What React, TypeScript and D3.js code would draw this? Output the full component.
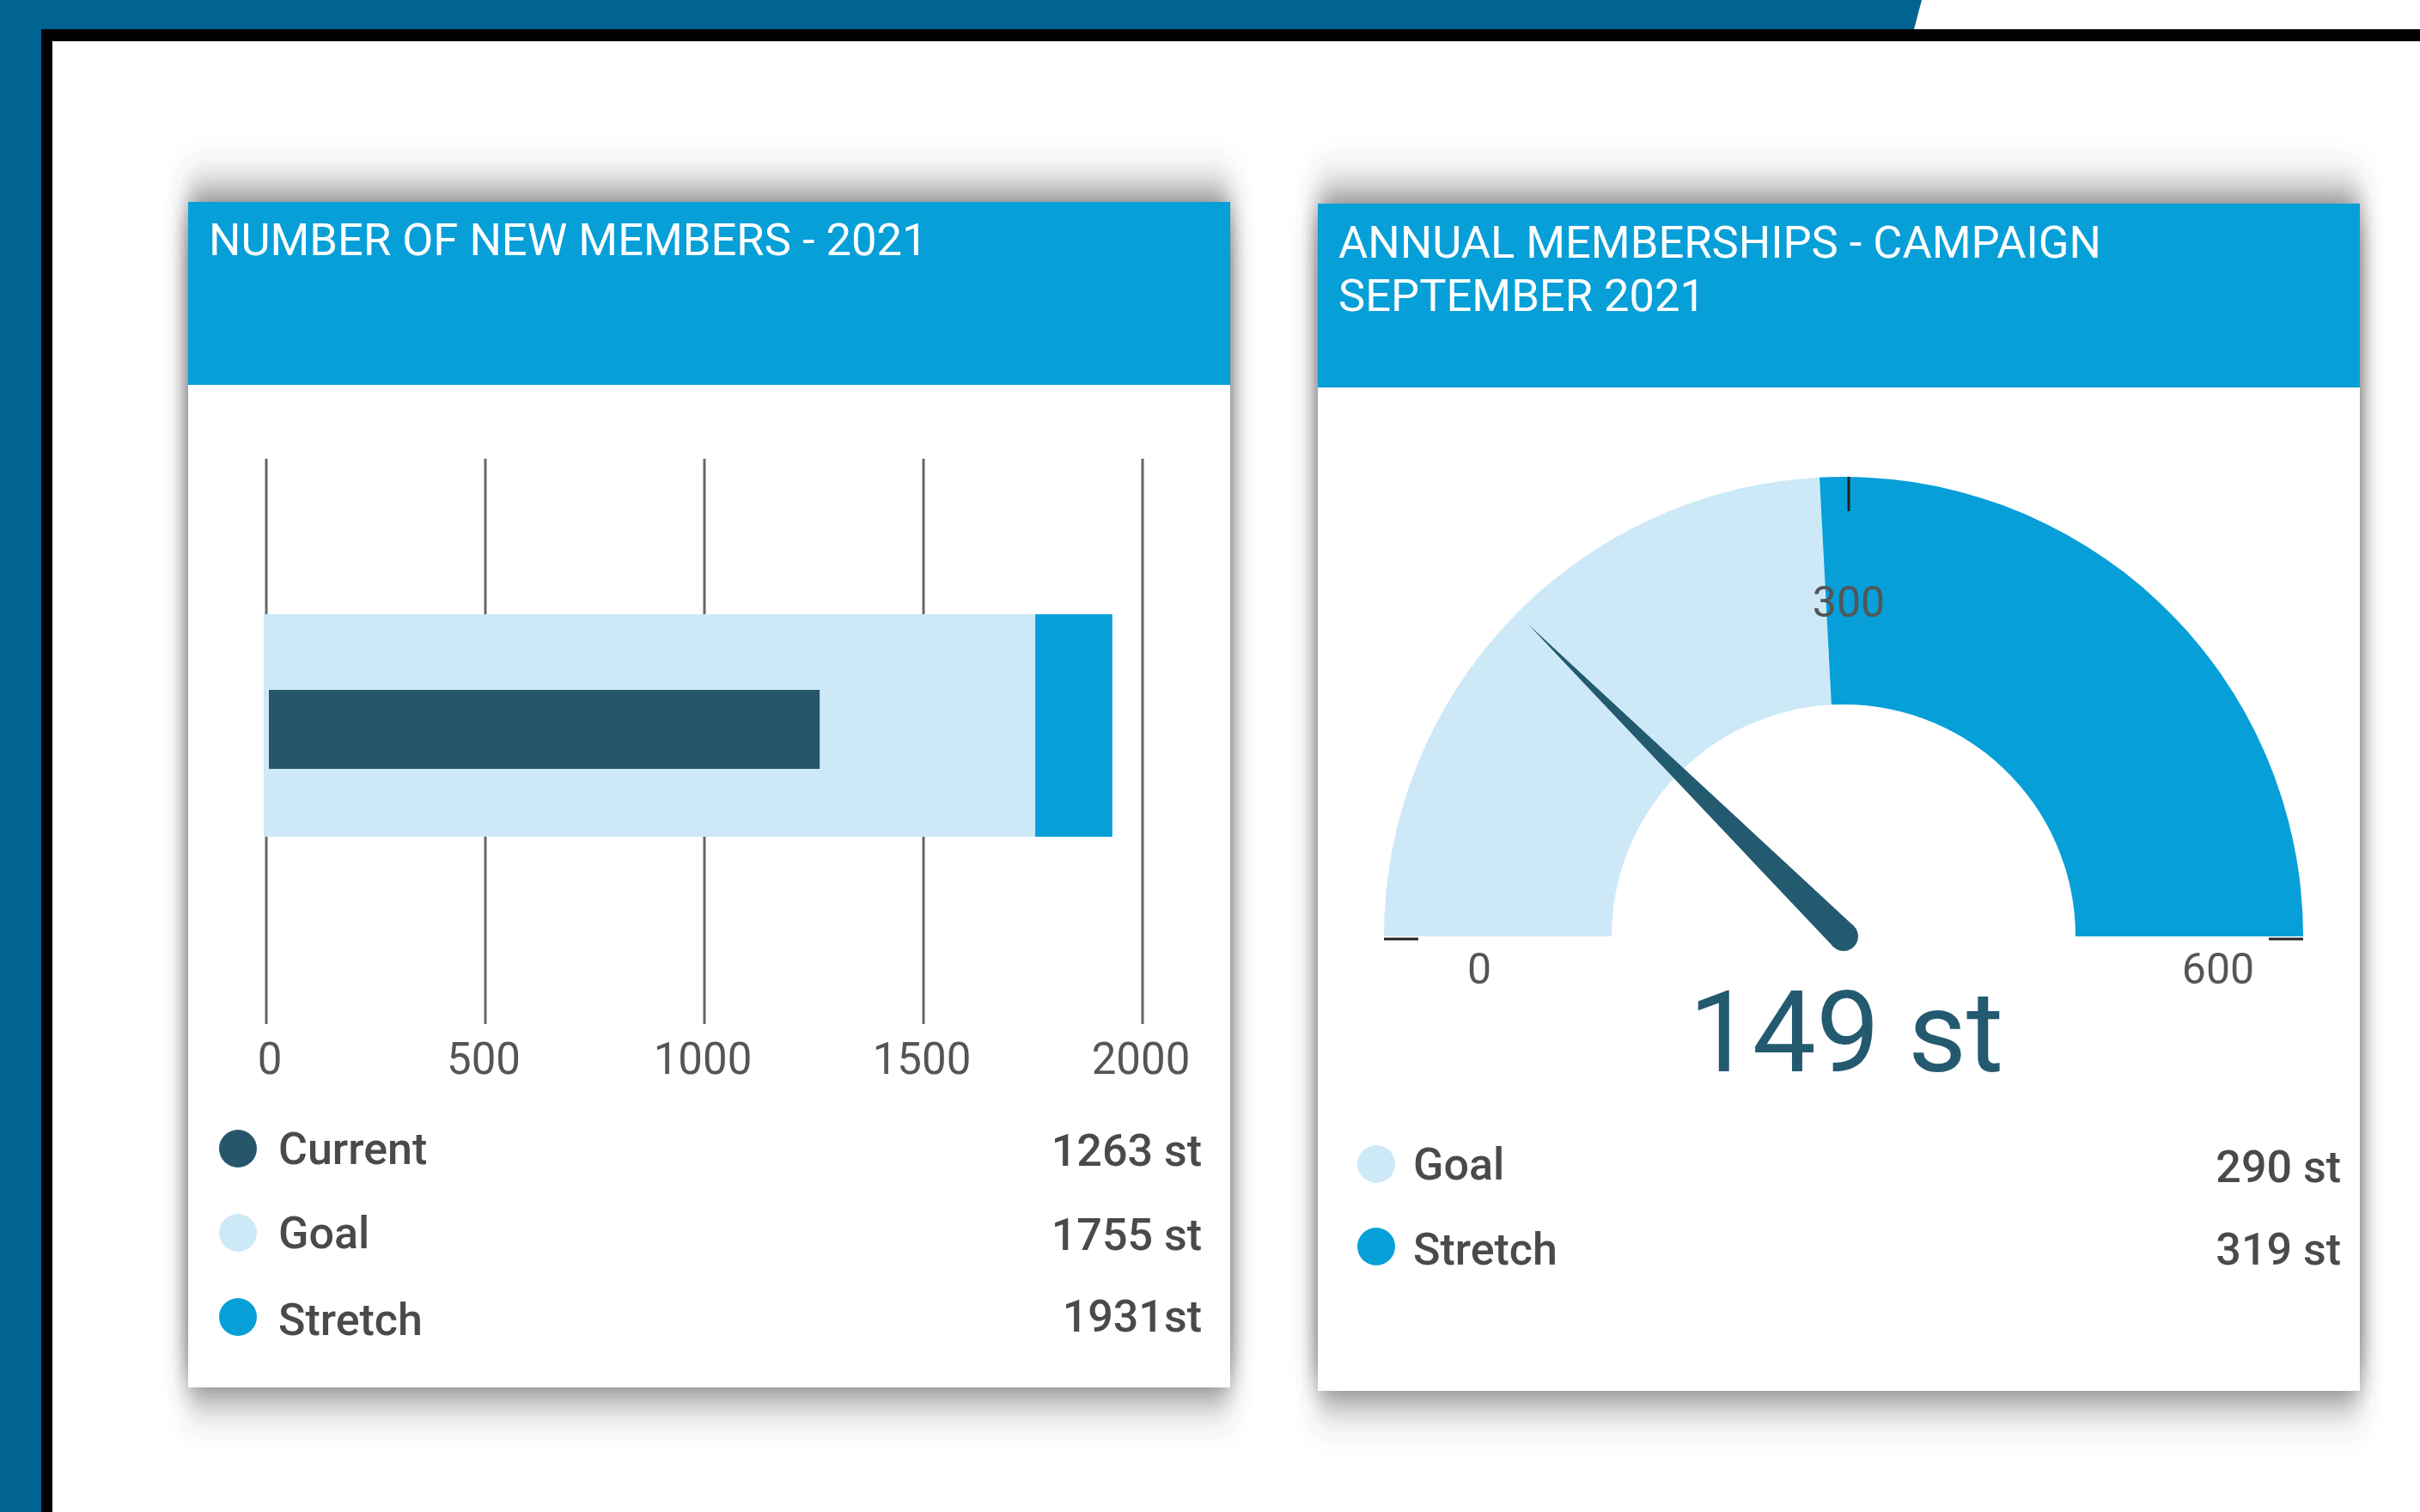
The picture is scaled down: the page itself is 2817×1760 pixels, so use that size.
import React from "react";
import * as d3 from "d3";

// ---------- data ----------
const bulletCategories = ["Current", "Goal", "Stretch"];
const bulletValues = [1263, 1755, 1931];
const bulletValueLabels = ["1263 st", "1755 st", "1931st"];
const bulletTicks = [0, 500, 1000, 1500, 2000];

const gaugeMin = 0;
const gaugeMax = 600;
const gaugeValue = 149;
const gaugeTicks = [0, 300, 600];
const gaugeCategories = ["Goal", "Stretch"];
const gaugeLegendValues = [290, 319];
const gaugeLegendLabels = ["290 st", "319 st"];

const title1 = ["NUMBER OF NEW MEMBERS - 2021"];
const title2 = ["ANNUAL MEMBERSHIPS - CAMPAIGN", "SEPTEMBER 2021"];

// ---------- styles ----------
const W = 2817;
const H = 1760;
const FONT = "Roboto, 'Noto Sans', sans-serif";
const C_FRAME = "#006391";
const C_HEADER = "#079fd8";
const C_LIGHT = "#cde9f8";
const C_STRETCH = "#079fd8";
const C_DARK = "#27566b";
const C_NEEDLE = "#245a70";
const C_TEXT = "#4a4a4a";
const C_AXIS = "#555";

const bulletColors = [C_DARK, C_LIGHT, C_STRETCH];
const gaugeColors = [C_LIGHT, C_STRETCH];

function Card({ x, y, w, h, headerH, lines, tx, tb }: any) {
  return (
    <g>
      <rect x={x} y={y} width={w} height={h} fill="#444" filter="url(#cardShadow)" />
      <rect x={x} y={y} width={w} height={h} fill="#fff" />
      <rect x={x} y={y} width={w} height={headerH} fill={C_HEADER} />
      {lines.map((t: string, i: number) => (
        <text key={i} x={tx} y={tb + i * 62} fill="#fff" fontFamily={FONT} fontSize={52.5} fontWeight={400}>
          {t}
        </text>
      ))}
    </g>
  );
}

export default function App() {
  // bullet chart
  const x = d3.scaleLinear().domain([0, 2000]).range([310, 1330]);
  const gridTop = 534;
  const gridBottom = 1192;
  const goalY = 715;
  const goalH = 259;
  const curY = 803;
  const curH = 92;

  // gauge
  const cx = 2146;
  const cy = 1090;
  const rOuter = 535;
  const rInner = 270;
  const ang = d3.scaleLinear().domain([gaugeMin, gaugeMax]).range([-Math.PI / 2, Math.PI / 2]);
  const arc = d3.arc<any>();
  const segs = [
    { a0: ang(gaugeMin), a1: ang(gaugeLegendValues[0]) },
    { a0: ang(gaugeLegendValues[0]), a1: ang(gaugeMax) },
  ];
  const na = ang(gaugeValue);
  const needleLen = 517;
  const nw = 17;
  const tipX = cx + needleLen * Math.sin(na);
  const tipY = cy - needleLen * Math.cos(na);
  const px = Math.cos(na) * nw;
  const py = Math.sin(na) * nw;
  const needlePath = `M${cx + px},${cy + py} L${tipX},${tipY} L${cx - px},${cy - py} Z`;

  return (
    <svg
      width={W}
      height={H}
      viewBox={`0 0 ${W} ${H}`}
      style={{ position: "absolute", left: 0, top: 0, display: "block" }}
    >
      <defs>
        <filter id="cardShadow" x="-10%" y="-15%" width="120%" height="130%">
          <feGaussianBlur stdDeviation="13 32" />
        </filter>
      </defs>
      <rect x={0} y={0} width={W} height={H} fill="#fff" />
      {/* frame */}
      <polygon points={`0,0 2237,0 2228,34 0,34`} fill={C_FRAME} />
      <rect x={0} y={0} width={48} height={H} fill={C_FRAME} />
      <rect x={48} y={34} width={W - 48} height={14} fill="#000" />
      <rect x={48} y={34} width={13} height={H - 34} fill="#000" />

      {/* card 1 */}
      <Card x={219} y={235} w={1213} h={1380} headerH={213} lines={title1} tx={243} tb={297} />
      {/* card 2 */}
      <Card x={1534} y={237} w={1213} h={1382} headerH={214} lines={title2} tx={1558} tb={300} />

      {/* bullet gridlines */}
      {bulletTicks.map((t) => (
        <line key={t} x1={x(t)} x2={x(t)} y1={gridTop} y2={gridBottom} stroke="#666" strokeWidth={3} />
      ))}
      {/* bars */}
      <rect x={x(bulletValues[1])} y={goalY} width={x(bulletValues[2]) - x(bulletValues[1])} height={goalH} fill={C_STRETCH} />
      <rect x={x(0) - 3} y={goalY} width={x(bulletValues[1]) - x(0) + 3} height={goalH} fill={C_LIGHT} />
      <rect x={x(0) + 3} y={curY} width={x(bulletValues[0]) - x(0) - 3} height={curH} fill={C_DARK} />
      {/* tick labels */}
      {bulletTicks.map((t) => (
        <text key={t} x={x(t) + (t === 0 ? 4 : -2)} y={1250} textAnchor="middle" fill={C_AXIS} fontFamily={FONT} fontSize={51}>
          {t}
        </text>
      ))}
      {/* legend */}
      {bulletCategories.map((c, i) => {
        const yy = 1337 + i * 98;
        return (
          <g key={c}>
            <circle cx={277} cy={yy} r={22} fill={bulletColors[i]} />
            <text x={324} y={yy + 18 + (i === 2 ? 3 : 0)} fill={C_TEXT} fontFamily={FONT} fontSize={52} fontWeight={500}>
              {c}
            </text>
            <text x={1399} y={yy + 20 - (i === 2 ? 3 : 0)} textAnchor="end" fill={C_TEXT} fontFamily={FONT} fontSize={52} fontWeight={500}>
              {bulletValueLabels[i]}
            </text>
          </g>
        );
      })}

      {/* gauge */}
      <g transform={`translate(${cx},${cy})`}>
        {segs.map((s, i) => (
          <path
            key={i}
            d={arc({ innerRadius: rInner, outerRadius: rOuter, startAngle: s.a0, endAngle: s.a1 }) as string}
            fill={gaugeColors[i]}
          />
        ))}
        {gaugeTicks.map((t) => {
          const a = ang(t);
          return (
            <line
              key={t}
              x1={rOuter * Math.sin(a) + (t === 300 ? 6 : 0)}
              y1={-rOuter * Math.cos(a) + (t === 300 ? 0 : 3)}
              x2={(rOuter - 40) * Math.sin(a) + (t === 300 ? 6 : 0)}
              y2={-(rOuter - 40) * Math.cos(a) + (t === 300 ? 0 : 3)}
              stroke="#222"
              strokeWidth={3}
            />
          );
        })}
        {gaugeTicks.map((t) => {
          const a = ang(t);
          return (
            <text
              key={"l" + t}
              x={430 * Math.sin(a) + 6}
              y={55 - 427 * Math.cos(a)}
              textAnchor="middle"
              fill={C_AXIS}
              fontFamily={FONT}
              fontSize={50}
            >
              {t}
            </text>
          );
        })}
      </g>
      <path d={needlePath} fill={C_NEEDLE} />
      <circle cx={cx} cy={cy} r={nw} fill={C_NEEDLE} />
      <text x={2149} y={1247} textAnchor="middle" fill={C_NEEDLE} fontFamily={FONT} fontSize={132}>
        {gaugeValue} st
      </text>
      {/* gauge legend */}
      {gaugeCategories.map((c, i) => {
        const yy = 1355 + i * 96;
        return (
          <g key={c}>
            <circle cx={1602} cy={yy} r={22} fill={gaugeColors[i]} />
            <text x={1645} y={yy + 18 + (i === 1 ? 3 : 0)} fill={C_TEXT} fontFamily={FONT} fontSize={52} fontWeight={500}>
              {c}
            </text>
            <text x={2725} y={yy + 21} textAnchor="end" fill={C_TEXT} fontFamily={FONT} fontSize={52} fontWeight={500}>
              {gaugeLegendLabels[i]}
            </text>
          </g>
        );
      })}
    </svg>
  );
}
